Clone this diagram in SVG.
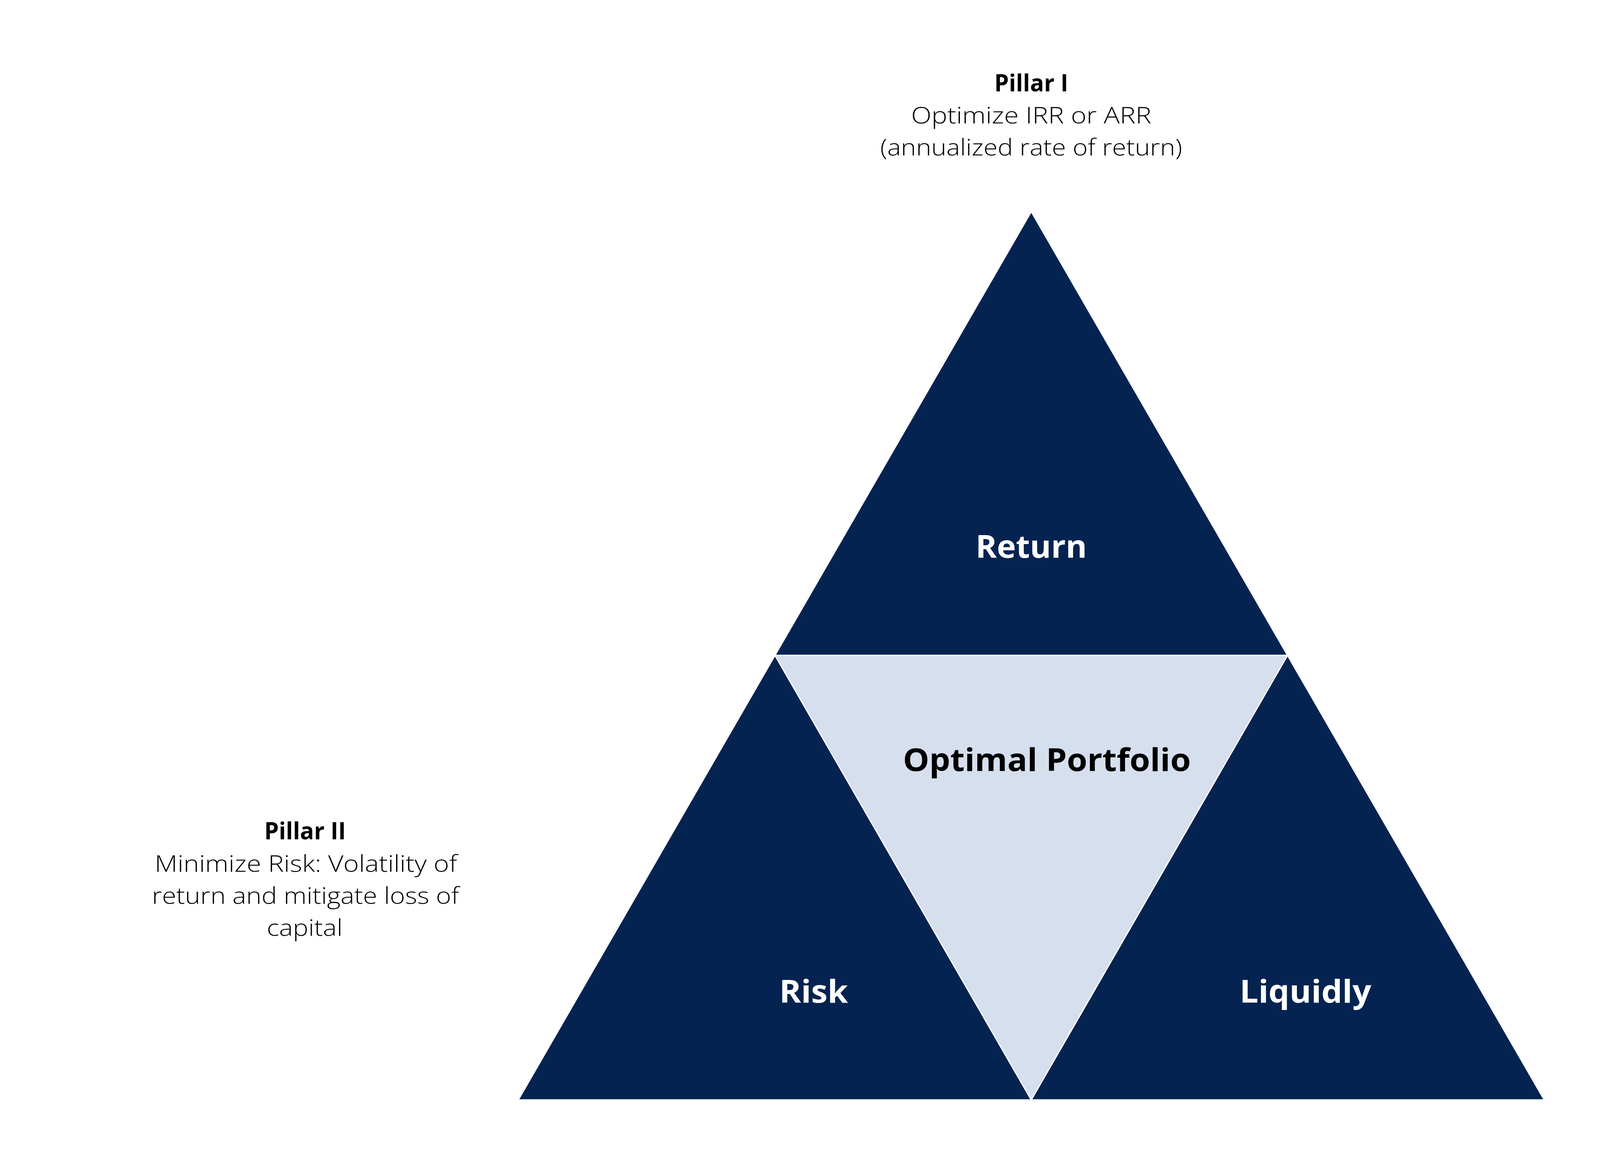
<svg xmlns="http://www.w3.org/2000/svg" width="5280" height="2970" viewBox="0 0 5280 2970">
<style>
.bg{fill:#ffffff}
.dark{fill:#052351;stroke:#ffffff;stroke-width:3}
.light{fill:#D5DFED;stroke:#ffffff;stroke-width:3}
text{font-family:"Open Sans","Noto Sans","Liberation Sans",sans-serif;text-anchor:middle}
.head{font-size:60px;font-weight:700;fill:#000000}
.body{font-size:58px;font-weight:300;fill:#000000}
.lab{font-size:80px;font-weight:700;fill:#ffffff}
.labd{font-size:80px;font-weight:700;fill:#000000}
</style>
<rect class="bg" x="0" y="0" width="5280" height="2970"/>
<g id="return-triangle">
<polygon class="dark" points="2640,542 3296,1678 1984,1678"/>
<text class="lab" x="2640" y="1428" textLength="285" lengthAdjust="spacingAndGlyphs">Return</text>
</g>
<g id="risk-triangle">
<polygon class="dark" points="1984,1678 2640,2816 1327,2816"/>
<text class="lab" x="2083" y="2567" textLength="176" lengthAdjust="spacingAndGlyphs">Risk</text>
</g>
<g id="liquidly-triangle">
<polygon class="dark" points="3296,1678 3953,2816 2640,2816"/>
<text class="lab" x="3342" y="2567" textLength="337" lengthAdjust="spacingAndGlyphs">Liquidly</text>
</g>
<g id="optimal-portfolio">
<polygon class="light" points="1984,1678 3296,1678 2640,2816"/>
<text class="labd" x="2680" y="1974" textLength="737" lengthAdjust="spacingAndGlyphs">Optimal Portfolio</text>
</g>
<g id="pillar-1">
<text class="head" x="2640" y="234" textLength="189" lengthAdjust="spacingAndGlyphs">Pillar I</text>
<text class="body" x="2640" y="316" textLength="615" lengthAdjust="spacingAndGlyphs">Optimize IRR or ARR</text>
<text class="body" x="2640" y="398" textLength="773" lengthAdjust="spacingAndGlyphs">(annualized rate of return)</text>
</g>
<g id="pillar-2">
<text class="head" x="781" y="2149" textLength="209" lengthAdjust="spacingAndGlyphs">Pillar II</text>
<text class="body" x="783" y="2232" textLength="774" lengthAdjust="spacingAndGlyphs">Minimize Risk: Volatility of</text>
<text class="body" x="782" y="2314" textLength="786" lengthAdjust="spacingAndGlyphs">return and mitigate loss of</text>
<text class="body" x="780" y="2396" textLength="194" lengthAdjust="spacingAndGlyphs">capital</text>
</g>
<g id="pillar-3">
<text class="head" x="4585" y="2149" textLength="227" lengthAdjust="spacingAndGlyphs">Pillar III</text>
<text class="body" x="4586" y="2232" textLength="568" lengthAdjust="spacingAndGlyphs">Maximize Liquidity:</text>
<text class="body" x="4585" y="2314" textLength="628" lengthAdjust="spacingAndGlyphs">Investment term and</text>
<text class="body" x="4585" y="2396" textLength="657" lengthAdjust="spacingAndGlyphs">contingency planning</text>
</g>
<g id="connectors"></g>
</svg>
